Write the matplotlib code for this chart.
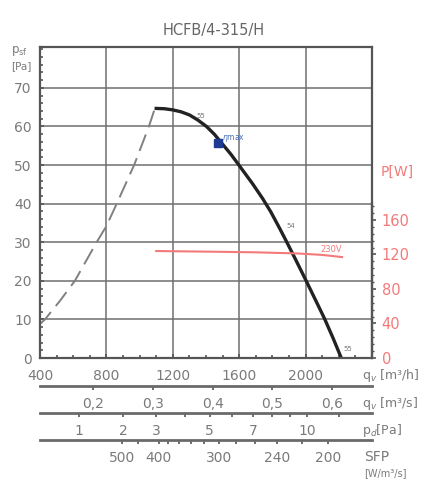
import numpy as np
import matplotlib.pyplot as plt
from matplotlib.ticker import MultipleLocator, FixedLocator

# fan curve (pressure vs flow)
fan_q = [1090, 1150, 1200, 1250, 1300, 1350, 1403, 1450, 1500, 1550, 1593,
         1680, 1740, 1790, 1840, 1880, 1940, 2000, 2060, 2114, 2165, 2215]
fan_pa = [64.7, 64.6, 64.3, 63.8, 63.0, 61.7, 60.0, 58.0, 55.4, 52.8, 50.3,
          45.2, 41.4, 37.9, 33.9, 30.6, 25.5, 20.3, 15.0, 10.2, 5.2, 0.0]

# unstable region (dashed)
dash_q = [394, 430, 520, 610, 741, 800, 857, 967, 1056, 1092]
dash_pa = [8.6, 10.0, 14.8, 20.0, 30.0, 34.2, 39.5, 50.0, 60.0, 64.7]

# input power, 230V
pow_q = [1100, 1400, 1700, 1950, 2100, 2220]
pow_w = [124.0, 123.3, 122.5, 121.2, 119.5, 117.0]

eta_q, eta_pa = 1472, 55.8

qs_ticks = [0.2, 0.3, 0.4, 0.5, 0.6]
pd_ticks = [1, 2, 3, 4, 5, 6, 7, 8, 9, 10, 12]
pd_labels = [1, 2, 3, 5, 7, 10]
sfp_ticks = [500, 450, 400, 380, 360, 340, 320, 300, 280, 260, 240, 220, 200]
sfp_labels = [500, 400, 300, 240, 200]

grey = '#7a7a7a'
dark = '#555555'
red = '#f47a7a'

W, H = 444, 490
fig = plt.figure(figsize=(4.44, 4.90), dpi=100)

def fx(px):
    return px / W

def fy(py):
    return 1 - py / H

x0, x1, ytop, ybot = 40, 372, 47, 358
ax = fig.add_axes([fx(x0), fy(ybot), fx(x1 - x0), fy(ytop) - fy(ybot)])
ax.set_xlim(400, 2400)
ax.set_ylim(0, 80.6)
ax.set_xticks([400, 800, 1200, 1600, 2000])
ax.set_yticks(range(0, 80, 10))
ax.set_yticklabels(['0', '10', '20', '30', '40', '50', '60', '70'])
ax.xaxis.set_minor_locator(MultipleLocator(100))
ax.yaxis.set_minor_locator(MultipleLocator(2))
ax.tick_params(which='both', direction='in', colors=dark, labelcolor=grey, labelsize=10)
ax.tick_params(which='major', length=3, width=1.2)
ax.tick_params(which='minor', length=2, width=1.2)
ax.tick_params(axis='x', pad=8)
ax.tick_params(axis='y', pad=6)
ax.grid(True, which='major', color='#6f6f6f', lw=1.1)
for s in ax.spines.values():
    s.set_color(dark)
    s.set_linewidth(1.6)

ax.plot(dash_q, dash_pa, color='#808080', lw=1.4, dashes=(9, 4))
ax.plot(fan_q, fan_pa, color='#222222', lw=2.4, solid_capstyle='butt', solid_joinstyle='round')
ax.plot([eta_q], [eta_pa], marker='s', ms=6, color='#1f3a93', zorder=5)
ax.text(eta_q + 25, eta_pa + 1, r'$\eta$max', fontsize=5.5, color='#4a6fb5', va='center')
ax.text(1370, 62.7, '55', fontsize=5, color=grey, ha='center', va='center')
ax.text(1914, 34.2, '54', fontsize=5, color=grey, ha='center', va='center')
ax.text(2255, 2.3, '55', fontsize=5, color=grey, ha='center', va='center')

# power on right axis
axp = ax.twinx()
axp.set_ylim(0, 360.5)
axp.plot(pow_q, pow_w, color=red, lw=1.5)
axp.text(2155, 125.5, '230V', fontsize=6, color=red, ha='center', va='center')
axp.set_yticks([0, 40, 80, 120, 160])
axp.yaxis.set_minor_locator(FixedLocator(np.arange(0, 181, 8)))
axp.spines['right'].set_bounds(0, 180)
axp.spines['right'].set_color(dark)
axp.spines['right'].set_linewidth(1.6)
for k in ['top', 'left', 'bottom']:
    axp.spines[k].set_visible(False)
axp.tick_params(which='both', direction='out', colors=dark, labelcolor=red, labelsize=10.5)
axp.tick_params(which='major', length=3, width=1.2, pad=4)
axp.tick_params(which='minor', length=1.5, width=1.0)

# extra scales under the chart
def scale_axis(py, ticks, labels_at, fmt):
    a = fig.add_axes([fx(x0), fy(py), fx(x1 - x0), 0.0005])
    a.set_xlim(400, 2400)
    a.set_ylim(0, 1)
    a.set_yticks([])
    for k in ['top', 'left', 'right']:
        a.spines[k].set_visible(False)
    a.spines['bottom'].set_color('#6a6a6a')
    a.spines['bottom'].set_linewidth(2.0)
    major = [ticks[i] for i in range(len(ticks)) if labels_at[i]]
    a.set_xticks(major)
    a.set_xticklabels(fmt)
    a.xaxis.set_minor_locator(FixedLocator(ticks))
    a.tick_params(which='both', direction='out', colors=dark, labelcolor=grey, labelsize=10)
    a.tick_params(which='major', length=3, width=1.2, pad=5)
    a.tick_params(which='minor', length=3, width=1.2)
    return a

qs_pos = [v * 3600 for v in qs_ticks]
scale_axis(386, qs_pos, [True] * len(qs_pos), [('%.1f' % v).replace('.', ',') for v in qs_ticks])

pd_pos = [636 * np.sqrt(p) for p in pd_ticks]
scale_axis(412.5, pd_pos, [p in pd_labels for p in pd_ticks], [str(p) for p in pd_labels])

def sfp_to_q(s):
    q = 1500.0
    for _ in range(30):
        q = 3600 * np.interp(q, pow_q, pow_w) / s
    return q

sfp_pos = [sfp_to_q(s) for s in sfp_ticks]
scale_axis(439.5, sfp_pos, [s in sfp_labels for s in sfp_ticks], [str(s) for s in sfp_labels])

# texts
fig.text(fx(214), fy(30), 'HCFB/4-315/H', fontsize=10.5, color='#666666', ha='center', va='center')
fig.text(fx(11), fy(51), r'p$_{\rm sf}$', fontsize=8.5, color=grey, ha='left', va='center')
fig.text(fx(11), fy(66), '[Pa]', fontsize=7.5, color=grey, ha='left', va='center')
fig.text(fx(381), fy(172), 'P[W]', fontsize=10, color=red, ha='left', va='center')
fig.text(fx(362), fy(375), r'q$_v$ [m³/h]', fontsize=9, color=grey, ha='left', va='center')
fig.text(fx(362), fy(403), r'q$_v$ [m³/s]', fontsize=9, color=grey, ha='left', va='center')
fig.text(fx(362), fy(430), r'p$_d$[Pa]', fontsize=9, color=grey, ha='left', va='center')
fig.text(fx(364), fy(457), 'SFP', fontsize=10, color=grey, ha='left', va='center')
fig.text(fx(364), fy(473), '[W/m³/s]', fontsize=7, color=grey, ha='left', va='center')

fig.savefig('out.png', dpi=100, facecolor='white')
